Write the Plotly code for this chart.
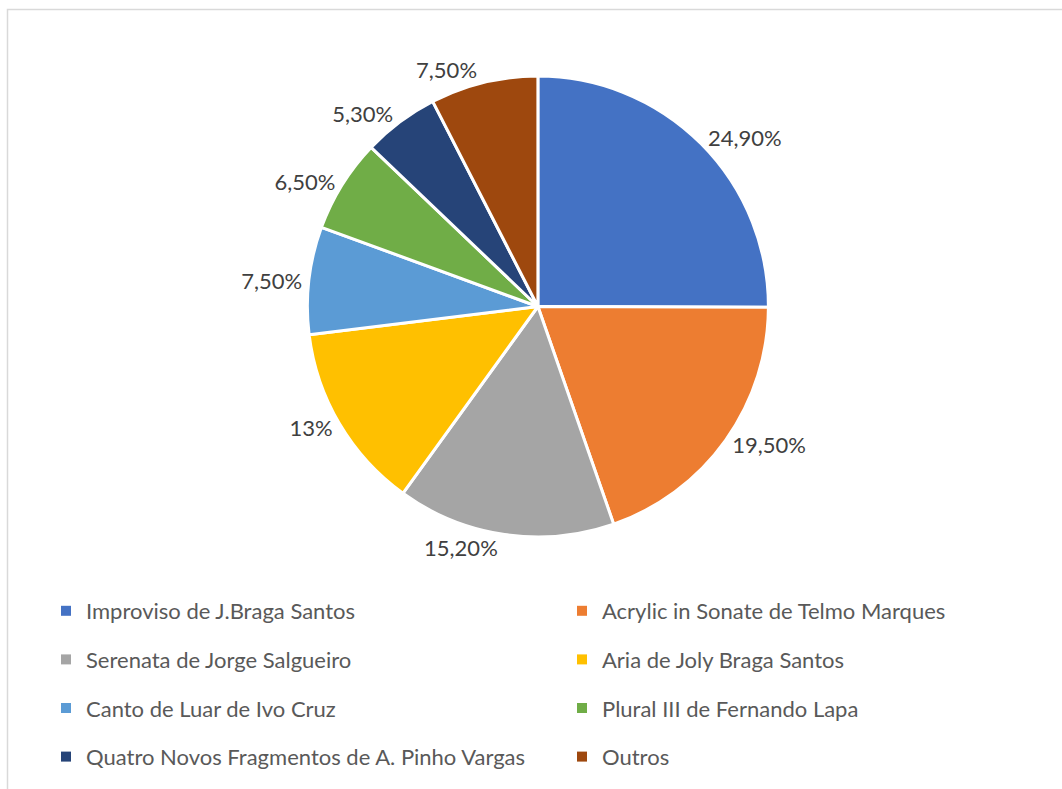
import plotly.graph_objects as go

# data
labels = [
    "Improviso de J.Braga Santos",
    "Acrylic in Sonate de Telmo Marques",
    "Serenata de Jorge Salgueiro",
    "Aria de Joly Braga Santos",
    "Canto de Luar de Ivo Cruz",
    "Plural III de Fernando Lapa",
    "Quatro Novos Fragmentos de A. Pinho Vargas",
    "Outros",
]
values = [24.9, 19.5, 15.2, 13.0, 7.5, 6.5, 5.3, 7.5]
value_text = ["24,90%", "19,50%", "15,20%", "13%", "7,50%", "6,50%", "5,30%", "7,50%"]
colors = ["#4472C4", "#ED7D31", "#A5A5A5", "#FFC000", "#5B9BD5", "#70AD47", "#264478", "#9E480E"]

W, H = 1062, 789
FONT = "Lato, 'Open Sans', sans-serif"

fig = go.Figure()

fig.add_trace(go.Pie(
    labels=labels,
    values=values,
    text=value_text,
    textinfo="text",
    textposition="outside",
    textfont=dict(family=FONT, size=22, color="#404040"),
    marker=dict(colors=colors, line=dict(color="white", width=3)),
    sort=False,
    direction="clockwise",
    rotation=0,
    showlegend=False,
    hoverinfo="label+percent",
    domain=dict(x=[0.2, 0.813], y=[1 - 537 / H, 1 - 76 / H]),
))

# legend entries: two columns, each entry its own group so rows can be spaced
for i, (lab, col) in enumerate(zip(labels, colors)):
    fig.add_trace(go.Scatter(
        x=[None], y=[None],
        mode="markers",
        name=lab,
        marker=dict(symbol="square", size=10, color=col),
        legend="legend" if i % 2 == 0 else "legend2",
        legendgroup=f"g{i}",
        showlegend=True,
    ))

legend_common = dict(
    orientation="v",
    yanchor="top",
    y=1 - 590 / H,
    xanchor="left",
    tracegroupgap=17,
    font=dict(family=FONT, size=22, color="#595959"),
    bgcolor="rgba(0,0,0,0)",
    itemclick=False,
)

fig.update_layout(
    width=W,
    height=H,
    paper_bgcolor="white",
    plot_bgcolor="white",
    margin=dict(l=0, r=0, t=0, b=0),
    xaxis=dict(visible=False),
    yaxis=dict(visible=False),
    legend=dict(x=(86 - 40) / W, **legend_common),
    legend2=dict(x=(602 - 40) / W, **legend_common),
    shapes=[dict(
        type="rect", xref="paper", yref="paper",
        x0=7.5 / W, x1=1.05, y0=-0.05, y1=1 - 9.5 / H,
        line=dict(color="#D9D9D9", width=1.5),
        fillcolor="rgba(0,0,0,0)",
        layer="below",
    )],
)

# drop the default page margin so the figure sits at the window origin
fig.write_html(
    "out.html",
    config={"displayModeBar": False},
    post_script="document.body.style.margin='0px';",
)
